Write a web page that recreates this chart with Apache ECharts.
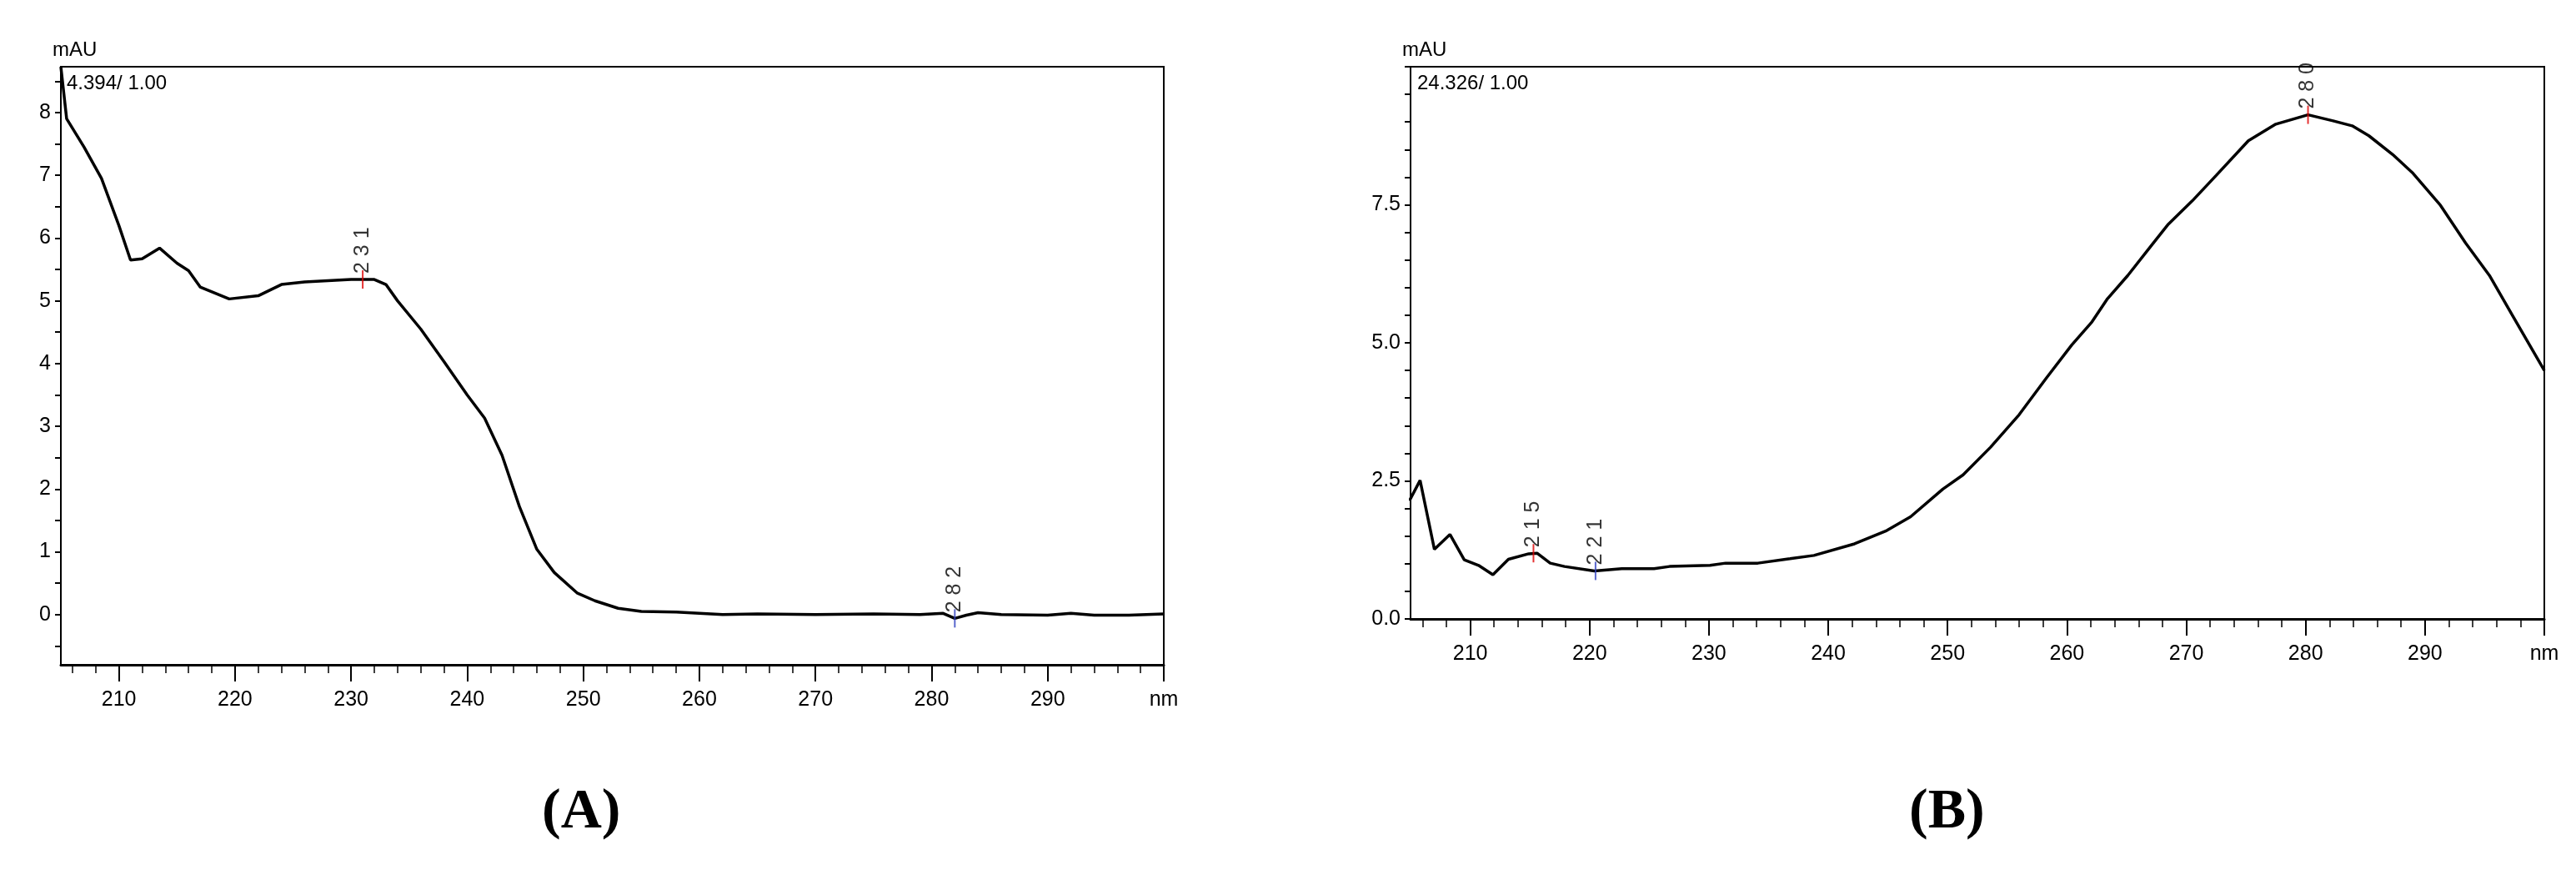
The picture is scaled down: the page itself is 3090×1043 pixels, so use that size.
<!DOCTYPE html>
<html>
<head>
<meta charset="utf-8">
<script src="https://cdn.jsdelivr.net/npm/echarts@6/dist/echarts.min.js"></script>
<style>html,body{margin:0;background:#fff}#main{width:3090px;height:1043px}</style>
</head>
<body>
<div id="main"></div>
<script>
// spectrum A (nm, mAU)
var wavelengthsA = [205,205.5,207,208.5,210,211,212,213.5,215,216,217,219.5,222,224,226,228,230,232,233,234,236,238,240,241.5,243,244.5,246,247.5,249.5,251,253,255,258,262,265,270,275,279,281,282,283,284,286,290,292,294,297,300];
var absorbanceA = [8.73,7.9,7.45,6.95,6.2,5.65,5.67,5.84,5.6,5.48,5.22,5.03,5.08,5.26,5.3,5.32,5.34,5.34,5.26,5.0,4.55,4.03,3.5,3.13,2.54,1.72,1.04,0.67,0.34,0.22,0.1,0.05,0.04,0,0.01,0,0.01,0,0.02,-0.06,-0.01,0.03,0,-0.01,0.02,-0.01,-0.01,0.01];
// spectrum B
var wavelengthsB = [204.9,205.8,207,208.3,209.5,210.7,211.9,213.2,214.9,215.6,216.7,217.9,220.4,222.7,225.4,226.7,230.1,231.4,234.1,236.8,238.8,242.2,244.9,246.9,249.6,251.3,253.6,256,258.3,260.4,262.1,263.4,265.1,267.1,268.5,270.5,272.5,275.2,277.5,280.2,282.3,283.9,285.3,287.3,289,291.3,293.4,295.4,297.4,300];
var absorbanceB = [2.14,2.51,1.26,1.53,1.07,0.97,0.8,1.08,1.18,1.19,1.01,0.95,0.87,0.91,0.91,0.95,0.97,1.01,1.01,1.09,1.15,1.36,1.6,1.85,2.35,2.61,3.11,3.7,4.37,4.96,5.38,5.8,6.22,6.77,7.15,7.57,8.03,8.66,8.96,9.13,9.02,8.93,8.75,8.41,8.07,7.49,6.81,6.22,5.47,4.5];
// peak markers
var peaksA = [[231, 5.34, '231', '#e00000'], [282, -0.06, '282', '#3040c0']];
var peaksB = [[215.3, 1.19, '215', '#e00000'], [220.5, 0.87, '221', '#3040c0'], [280.2, 9.13, '280', '#e00000']];
var headerA = '4.394/ 1.00';
var headerB = '24.326/ 1.00';

var xMajor = [210,220,230,240,250,260,270,280,290,300];
var xMinor = [];
for (var v = 206; v < 300; v += 2) xMinor.push(v);
var yLabelsA = [0,1,2,3,4,5,6,7,8];
var yTicksA = [];
for (var t = -0.5; t <= 8.5; t += 0.5) yTicksA.push(t);
var yLabelsB = [0,2.5,5,7.5];
var yTicksB = [];
for (var t2 = 0; t2 <= 10; t2 += 0.5) yTicksB.push(t2);

var font = '"Liberation Sans Narrow","Liberation Sans",Arial,sans-serif';
var black = '#000';

function pairs(xs, ys) { return xs.map(function (x, i) { return [x, ys[i]]; }); }

function xAxes(gi) {
    return [{
        type: 'value', gridIndex: gi, min: 205, max: 300,
        axisLine: {show: true, onZero: false, lineStyle: {color: black, width: 3}},
        axisTick: {show: true, length: 20, customValues: xMajor, lineStyle: {color: black, width: 2}},
        axisLabel: {customValues: xMajor, color: black, fontFamily: font, fontSize: 25, margin: 30,
            formatter: function (v) { return v === 300 ? 'nm' : String(v); }},
        splitLine: {show: false}
    }, {
        type: 'value', gridIndex: gi, min: 205, max: 300, position: 'bottom',
        axisLine: {show: false, onZero: false},
        axisTick: {show: true, length: 10, customValues: xMinor, lineStyle: {color: black, width: 1.5}},
        axisLabel: {show: false}, splitLine: {show: false}
    }];
}

function yAxis(gi, min, max, labels, ticks, fmt) {
    return {
        type: 'value', gridIndex: gi, min: min, max: max,
        name: 'mAU', nameLocation: 'end', nameGap: 8,
        nameTextStyle: {color: black, fontFamily: font, fontSize: 24, align: 'left', padding: [0, 0, 0, -10]},
        axisLine: {show: true, onZero: false, lineStyle: {color: black, width: 2}},
        axisTick: {show: true, length: 7, customValues: ticks, lineStyle: {color: black, width: 2}},
        axisLabel: {customValues: labels, color: black, fontFamily: font, fontSize: 25, margin: 12, formatter: fmt},
        splitLine: {show: false}
    };
}

function peakSeries(xi, yi, peaks) {
    return {
        type: 'scatter', xAxisIndex: xi, yAxisIndex: yi, symbol: 'rect', symbolSize: [2, 22], z: 5,
        data: peaks.map(function (p) {
            return {value: [p[0], p[1]], itemStyle: {color: p[3]},
                label: {show: true, formatter: p[2].split('').join(' '), rotate: 90, position: 'top',
                    distance: -4, align: 'left', verticalAlign: 'middle', color: black,
                    fontFamily: font, fontSize: 25}};
        })
    };
}

var chart = echarts.init(document.getElementById('main'));
chart.setOption({
    backgroundColor: '#fff',
    animation: false,
    grid: [
        {left: 73, right: 1694, top: 80, bottom: 246, show: true, borderColor: black, borderWidth: 2},
        {left: 1692, right: 38, top: 80, bottom: 301, show: true, borderColor: black, borderWidth: 2}
    ],
    xAxis: xAxes(0).concat(xAxes(1)),
    yAxis: [
        yAxis(0, -0.8, 8.73, yLabelsA, yTicksA, function (v) { return String(v); }),
        yAxis(1, 0, 10, yLabelsB, yTicksB, function (v) { return v.toFixed(1); })
    ],
    graphic: [
        {type: 'text', left: 80, top: 88, style: {text: headerA, font: '24px ' + font, fill: black}},
        {type: 'text', left: 1700, top: 88, style: {text: headerB, font: '24px ' + font, fill: black}},
        {type: 'text', left: 650, top: 940, style: {text: '(A)', font: 'bold 68px "Liberation Serif",serif', fill: black}},
        {type: 'text', left: 2290, top: 940, style: {text: '(B)', font: 'bold 68px "Liberation Serif",serif', fill: black}}
    ],
    series: [
        {type: 'line', xAxisIndex: 0, yAxisIndex: 0, data: pairs(wavelengthsA, absorbanceA),
            showSymbol: false, lineStyle: {color: black, width: 3.5}},
        {type: 'line', xAxisIndex: 2, yAxisIndex: 1, data: pairs(wavelengthsB, absorbanceB),
            showSymbol: false, lineStyle: {color: black, width: 3.5}},
        peakSeries(0, 0, peaksA),
        peakSeries(2, 1, peaksB)
    ]
});
</script>
</body>
</html>
